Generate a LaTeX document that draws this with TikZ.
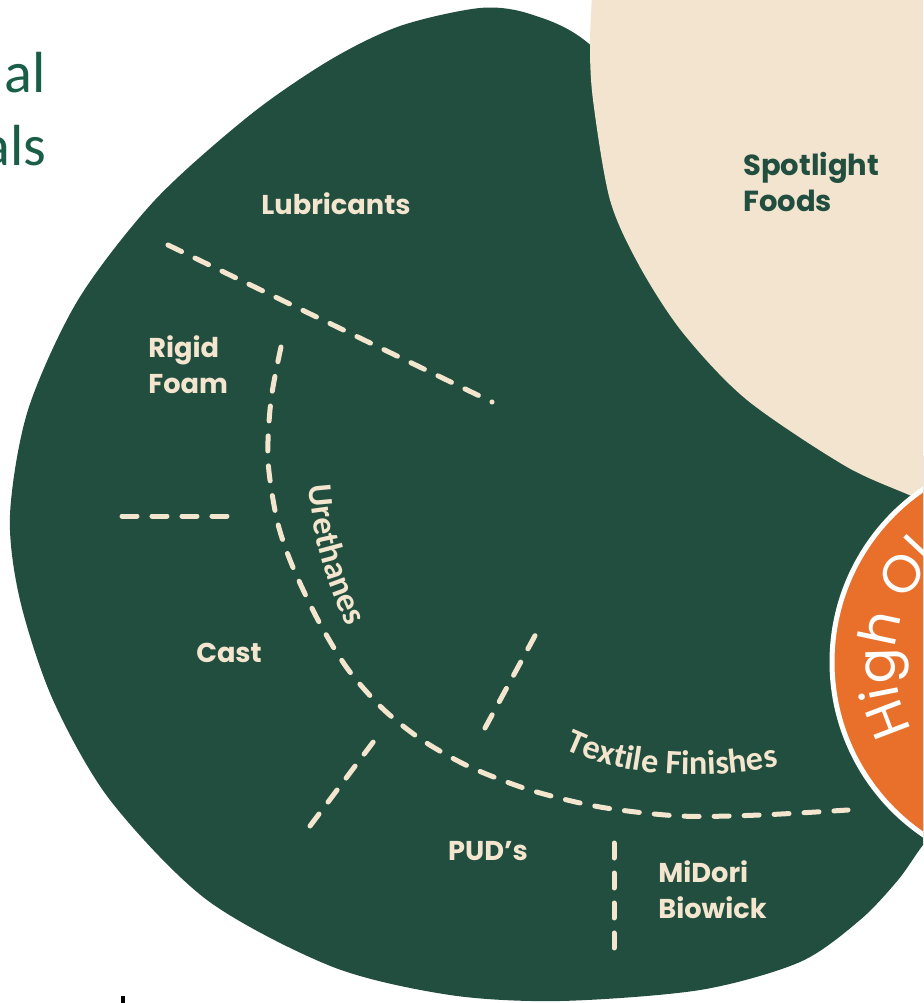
\documentclass[tikz,border=0pt]{standalone}
\usepackage{fontspec}
\setmainfont{Poppins}
\newfontfamily\calfont{Carlito}
\usetikzlibrary{decorations.text}

\definecolor{blobgreen}{RGB}{34,78,63}
\definecolor{beige}{RGB}{242,228,207}
\definecolor{cream}{RGB}{243,229,206}
\definecolor{hioleic}{RGB}{232,112,43}
\definecolor{titlegreen}{RGB}{27,94,71}

\newcommand{\lblfont}{\fontsize{15.5pt}{20.5pt}\selectfont\bfseries}
\newcommand{\arcfont}{\calfont\bfseries\fontsize{19.5pt}{22pt}\selectfont}
\newcommand{\hofont}{\fontsize{30pt}{30pt}\selectfont}

\begin{document}
\begin{tikzpicture}[x=0.02cm,y=-0.02cm,
    divider/.style={cream, line width=0.1cm, line cap=round, dash pattern=on 0.3cm off 0.3cm},
    lbl/.style={text=cream, font=\lblfont, align=left, inner sep=0pt}]
    \useasboundingbox (0,0) rectangle (923,1003);
    \clip (0,0) rectangle (923,1003);
    \fill[white] (0,0) rectangle (923,1003);

    % green blob
    \fill[blobgreen] plot[smooth cycle] coordinates {(923,845) (898,880) (860,920) (800,962)
        (700,990) (560,1001) (450,995) (333,967) (207,900) (110,800) (53,700) (20,600)
        (10,515) (28,410) (78,300) (155,200) (250,115) (330,60) (400,26) (480,8) (530,14)
        (588,43) (680,140) (800,300) (950,500) (990,700) (960,800)};
    % beige region, top right
    \fill[beige] plot[smooth] coordinates {(593,-20) (590,43) (593,100) (610,200) (640,267)
        (683,333) (747,400) (847,467) (920,500) (970,530)} -- (1000,530) -- (1000,-20) -- cycle;
    % orange disc with white rim
    \coordinate (hocenter) at (1041,662);
    \draw[white, line width=0.1cm, fill=hioleic] (hocenter) circle (209);
    \path[decorate, decoration={text along path, text align=left,
        text={|\hofont\color{white}|High Ol}}]
        (hocenter) ++(208:2.92cm) arc[start angle=208, end angle=110, radius=2.92cm];

    % cut-off title at the left
    \node[anchor=base east, inner sep=0pt, text=titlegreen, font=\calfont\fontsize{33pt}{40pt}\selectfont] (title1) at (46,93) {al};
    \node[anchor=base east, inner sep=0pt, text=titlegreen, font=\calfont\fontsize{33pt}{40pt}\selectfont] (title2) at (47,166) {als};
    \fill[black] (121,996) rectangle (125,1003);

    % straight dividers
    \foreach \xa/\ya/\xb/\yb in {168/245/492/402, 122/516/233/516, 310/826/377/737,
        485/728/537/632, 614/843/614/951}
        \draw[divider] (\xa,\ya) -- (\xb,\yb);
    % the urethanes arc
    \draw[divider] plot[smooth] coordinates {(281,347) (271,400) (268,460) (277,520) (292,565)
        (318,620) (347,668) (382,708) (422,740) (470,767) (530,790) (600,807) (680,816)
        (760,815) (848,810)};

    % labels along the arc
    \path[decorate, decoration={text along path, text align=left,
        text={|\arcfont\color{cream}|Urethanes}}]
        (309,485) .. controls (313,545) and (330,600) .. (365,660);
    \path[decorate, decoration={text along path, text align=left,
        text={|\arcfont\color{cream}|Textile Finishes}}]
        (565,749) .. controls (620,775) and (700,785) .. (800,762);

    % segment labels
    \foreach \name/\x/\y/\txt in {lubricants/336/204/Lubricants, cast/229/653/Cast, puds/488/851/PUD's}
        \node[lbl] (\name) at (\x,\y) {\txt};
    \node[lbl, anchor=west] (rigidfoam) at (148,365) {Rigid\\Foam};
    \node[lbl, anchor=west] (midori) at (658,890) {MiDori\\Biowick};
    \node[lbl, anchor=west, text=blobgreen, font=\fontsize{16.5pt}{20.5pt}\selectfont\bfseries] (spotlight) at (743,182) {Spotlight\\Foods};
\end{tikzpicture}
\end{document}
